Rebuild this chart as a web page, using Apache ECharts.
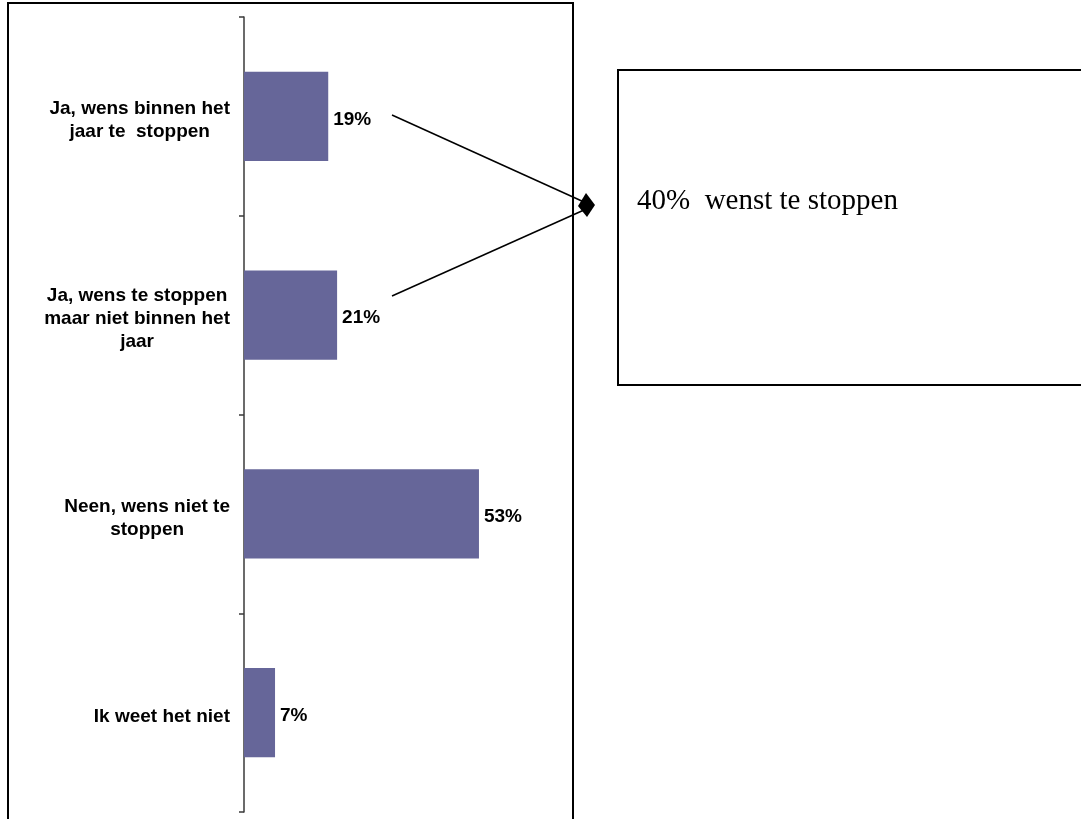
<!DOCTYPE html>
<html>
<head>
<meta charset="utf-8">
<script src="https://cdn.jsdelivr.net/npm/echarts@6/dist/echarts.min.js"></script>
<style>
html,body{margin:0;padding:0;background:#fff;}
#chart{width:1081px;height:819px;}
</style>
</head>
<body>
<div id="chart"></div>
<script>
var categories = [
  'Ja, wens binnen het\njaar te  stoppen',
  'Ja, wens te stoppen\nmaar niet binnen het\njaar',
  'Neen, wens niet te\nstoppen',
  'Ik weet het niet'
];
var values = [19, 21, 53, 7];
var annotationText = '40%  wenst te stoppen';

var chart = echarts.init(document.getElementById('chart'), null, {renderer: 'canvas'});
var labelFont = '"Liberation Sans", Arial, sans-serif';

var option = {
  backgroundColor: '#ffffff',
  animation: false,
  grid: {left: 244, top: 17, width: 266, height: 795},
  xAxis: {
    type: 'value', min: 0, max: 60, show: false
  },
  yAxis: {
    type: 'category',
    data: categories,
    inverse: true,
    axisLine: {show: true, lineStyle: {color: '#3a3a3a', width: 1.5}},
    axisTick: {show: true, length: 5, lineStyle: {color: '#3a3a3a', width: 1.5}},
    axisLabel: {
      margin: 14,
      align: 'right',
      padding: [8, 0, 0, 0],
      formatter: function (v) {
        return v.split('\n').map(function (l) { return '{c|' + l + '}'; }).join('\n');
      },
      rich: {
        c: {
          align: 'center',
          fontFamily: labelFont,
          fontWeight: 'bold',
          fontSize: 19,
          lineHeight: 23,
          color: '#000'
        }
      }
    },
    splitLine: {show: false}
  },
  series: [{
    type: 'bar',
    data: values,
    barCategoryGap: '55%',
    itemStyle: {color: '#666699'},
    label: {
      show: true,
      position: 'right',
      distance: 5,
      offset: [0, 3],
      formatter: '{c}%',
      fontFamily: labelFont,
      fontWeight: 'bold',
      fontSize: 19,
      color: '#000'
    }
  }],
  graphic: [
    {type: 'rect', shape: {x: 8, y: 3, width: 565, height: 830}, style: {fill: 'none', stroke: '#000', lineWidth: 2}, z: 100},
    {type: 'rect', shape: {x: 618, y: 70, width: 480, height: 315}, style: {fill: 'none', stroke: '#000', lineWidth: 2}, z: 100},
    {type: 'line', shape: {x1: 392, y1: 115, x2: 584, y2: 202}, style: {stroke: '#000', lineWidth: 1.5}, z: 100},
    {type: 'line', shape: {x1: 392, y1: 296, x2: 584, y2: 210}, style: {stroke: '#000', lineWidth: 1.5}, z: 100},
    {type: 'polygon', shape: {points: [[578, 206], [586, 193], [595, 205], [587, 217]]}, style: {fill: '#000'}, z: 101},
    {type: 'text', left: 637, top: 187, style: {text: annotationText, font: '29px "Liberation Serif", "Times New Roman", serif', fill: '#000'}, z: 100}
  ]
};
chart.setOption(option);
</script>
</body>
</html>
